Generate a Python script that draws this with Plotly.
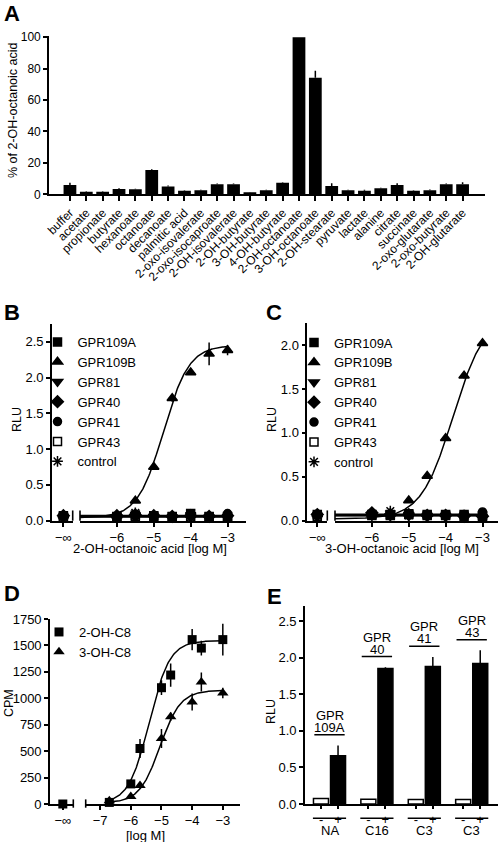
import numpy as np
import plotly.graph_objects as go

W, H = 498, 842
FONT = "Liberation Sans, Arial, sans-serif"

# ---------------- Panel A ----------------
a_categories = ["buffer", "acetate", "propionate", "butyrate", "hexanoate", "octanoate",
                "decanoate", "palmitic acid", "2-oxo-isovalerate", "2-oxo-isocaproate",
                "2-OH-isovalerate", "2-OH-butyrate", "3-OH-butyrate", "4-OH-butyrate",
                "2-OH-octanoate", "3-OH-octanoate", "2-OH-stearate", "pyruvate", "lactate",
                "alanine", "citrate", "succinate", "2-oxo-glutarate", "2-oxo-butyrate",
                "2-OH-glutarate"]
a_values = [5.9, 1.7, 1.7, 3.4, 3.2, 15.5, 4.9, 2.3, 2.5, 6.4, 6.4, 1.3, 2.5, 7.4,
            100, 74.3, 5.3, 2.5, 2.3, 3.8, 5.9, 2.3, 2.5, 6.4, 6.4]
a_errors = [1.4, 0.3, 0.3, 0.4, 0.3, 0.4, 0.7, 0.3, 0.4, 0.5, 0.5, 0.2, 0.4, 0.3,
            0.0, 4.3, 1.7, 0.4, 0.6, 0.3, 1.2, 0.3, 0.6, 0.5, 1.2]
a_yticks = [0, 20, 40, 60, 80, 100]

# ---------------- Panels B and C ----------------
bc_receptors = ["GPR109A", "GPR109B", "GPR81", "GPR40", "GPR41", "GPR43", "control"]
bc_conc = [-6, -5.5, -5, -4.5, -4, -3.5, -3]          # log M
bc_xticks = [-6, -5, -4, -3]

# values at -inf (buffer) and at bc_conc
b_inf = [0.07, 0.07, 0.06, 0.07, 0.06, 0.05, 0.06]
b_gpr109a = [0.06, 0.08, 0.07, 0.06, 0.10, 0.06, 0.06]
b_gpr109b = [0.07, 0.28, 0.75, 1.71, 2.07, 2.33, 2.38]
b_gpr109b_err = [0.0, 0.02, 0.03, 0.05, 0.03, 0.16, 0.07]
b_gpr81 = [0.05, 0.07, 0.06, 0.05, 0.08, 0.05, 0.05]
b_gpr40 = [0.07, 0.08, 0.07, 0.06, 0.07, 0.06, 0.07]
b_gpr41 = [0.06, 0.07, 0.07, 0.06, 0.08, 0.06, 0.10]
b_gpr43 = [0.05, 0.06, 0.06, 0.05, 0.05, 0.05, 0.05]
b_control = [0.06, 0.11, 0.07, 0.06, 0.05, 0.06, 0.06]
b_fit_gpr109b = [0.04, 2.45, -4.74, 1.25]   # bottom, top, logEC50, hill

c_inf = [0.07, 0.07, 0.06, 0.07, 0.06, 0.05, 0.06]
c_gpr109a = [0.07, 0.07, 0.07, 0.07, 0.07, 0.07, 0.06]
c_gpr109b = [0.07, 0.08, 0.23, 0.51, 0.94, 1.65, 2.02]
c_gpr109b_err = [0.0, 0.01, 0.02, 0.02, 0.03, 0.03, 0.02]
c_gpr81 = [0.06, 0.06, 0.07, 0.06, 0.06, 0.05, 0.04]
c_gpr40 = [0.09, 0.07, 0.07, 0.06, 0.06, 0.05, 0.05]
c_gpr41 = [0.07, 0.07, 0.07, 0.07, 0.07, 0.07, 0.10]
c_gpr43 = [0.06, 0.06, 0.08, 0.06, 0.06, 0.05, 0.05]
c_control = [0.06, 0.11, 0.06, 0.06, 0.06, 0.05, 0.05]
c_fit_gpr109b = [0.02, 2.35, -3.8, 1.0]

# ---------------- Panel D ----------------
d_series = ["2-OH-C8", "3-OH-C8"]
d_conc = [-6.7, -6, -5.7, -5, -4.7, -4, -3.7, -3]
d_xticks = [-7, -6, -5, -4, -3]
d_inf = [0, 0]
d_2oh = [15, 190, 525, 1100, 1220, 1555, 1475, 1555]
d_2oh_err = [10, 30, 90, 70, 110, 100, 70, 150]
d_3oh = [30, 70, 175, 620, 826, 965, 1155, 1050]
d_3oh_err = [10, 20, 30, 90, 40, 80, 90, 50]
d_fit_2oh = [5, 1545, -5.4, 1.3]
d_fit_3oh = [10, 1075, -5.05, 1.3]

# ---------------- Panel E ----------------
e_agonists = ["NA", "C16", "C3", "C3"]
e_receptors = ["109A", "40", "41", "43"]
e_minus = [0.075, 0.065, 0.06, 0.06]
e_plus = [0.66, 1.85, 1.88, 1.92]
e_plus_err = [0.14, 0.02, 0.13, 0.18]


def px(x):
    return x / W


def py(y):
    return 1 - y / H


def logistic(x, p):
    bottom, top, logec50, hill = p
    return bottom + (top - bottom) / (1 + 10 ** ((logec50 - x) * hill))


fig = go.Figure()
BLACK = "black"
ERR = dict(type="data", color=BLACK, thickness=1.5, width=0)

# ---- A
a_idx = list(range(len(a_categories)))
fig.add_trace(go.Bar(x=a_idx, y=a_values, width=0.78, marker=dict(color=BLACK, line=dict(width=0)),
                     error_y=dict(ERR, array=a_errors, symmetric=False, arrayminus=[0] * len(a_errors)),
                     xaxis="x", yaxis="y", showlegend=False))

# ---- B, C
symbols = ["square", "triangle-up", "triangle-down", "diamond", "circle", "square-open", "asterisk-open"]
sizes = [8, 9, 9, 9, 8, 8, 9]


def add_dose_panel(inf_vals, series, errs, fits, xl, xm, ya, legend, x_curve):
    n = len(bc_receptors)
    for i in reversed(range(n)):
        fig.add_trace(go.Scatter(x=[0], y=[inf_vals[i]], mode="markers", xaxis=xl, yaxis=ya,
                                 marker=dict(symbol=symbols[i], size=sizes[i], color=BLACK,
                                             line=dict(color=BLACK, width=1.5)),
                                 showlegend=False, cliponaxis=False))
    xs = np.linspace(x_curve[0], x_curve[1], 200)
    for i in range(n):
        if fits[i] is not None:
            ys = logistic(xs, fits[i])
            fig.add_trace(go.Scatter(x=xs, y=ys, mode="lines", line=dict(color=BLACK, width=1.5),
                                     xaxis=xm, yaxis=ya, showlegend=False, hoverinfo="skip"))
        else:
            m = float(np.mean(series[i]))
            fig.add_trace(go.Scatter(x=[x_curve[0], x_curve[1]], y=[m, m], mode="lines",
                                     line=dict(color=BLACK, width=1.5),
                                     xaxis=xm, yaxis=ya, showlegend=False, hoverinfo="skip"))
    for i in range(n):
        kw = {}
        if errs[i] is not None:
            kw["error_y"] = dict(ERR, array=errs[i])
        fig.add_trace(go.Scatter(x=bc_conc, y=series[i], mode="markers", name=bc_receptors[i],
                                 xaxis=xm, yaxis=ya, legend=legend, legendrank=i + 1,
                                 marker=dict(symbol=symbols[i], size=sizes[i], color=BLACK,
                                             line=dict(color=BLACK, width=1.5)),
                                 cliponaxis=False, **kw))


b_series = [b_gpr109a, b_gpr109b, b_gpr81, b_gpr40, b_gpr41, b_gpr43, b_control]
b_errs = [None, b_gpr109b_err, None, None, None, None, None]
b_fits = [None, b_fit_gpr109b, None, None, None, None, None]
add_dose_panel(b_inf, b_series, b_errs, b_fits, "x2", "x3", "y2", "legend", (-7, -3))

c_series = [c_gpr109a, c_gpr109b, c_gpr81, c_gpr40, c_gpr41, c_gpr43, c_control]
c_errs = [None, c_gpr109b_err, None, None, None, None, None]
c_fits = [None, c_fit_gpr109b, None, None, None, None, None]
add_dose_panel(c_inf, c_series, c_errs, c_fits, "x4", "x5", "y3", "legend2", (-7, -3))

# ---- D
d_vals = [d_2oh, d_3oh]
d_errs = [d_2oh_err, d_3oh_err]
d_fits = [d_fit_2oh, d_fit_3oh]
d_symbols = ["square", "triangle-up"]
d_sizes = [9, 10]
xs_d = np.linspace(min(d_conc) - 0.1, max(d_conc), 200)
for i in range(2):
    fig.add_trace(go.Scatter(x=xs_d, y=logistic(xs_d, d_fits[i]), mode="lines",
                             line=dict(color=BLACK, width=1.5), xaxis="x7", yaxis="y4",
                             showlegend=False, hoverinfo="skip"))
for i in range(2):
    fig.add_trace(go.Scatter(x=d_conc, y=d_vals[i], mode="markers", name=d_series[i],
                             error_y=dict(ERR, array=d_errs[i]),
                             marker=dict(symbol=d_symbols[i], size=d_sizes[i], color=BLACK),
                             xaxis="x7", yaxis="y4", legend="legend3", legendrank=i + 1,
                             cliponaxis=False))
fig.add_trace(go.Scatter(x=[0], y=[d_inf[0]], mode="markers",
                         marker=dict(symbol="square", size=9, color=BLACK),
                         xaxis="x6", yaxis="y4", showlegend=False, cliponaxis=False))

# ---- E
e_idx = list(range(len(e_agonists)))
fig.add_trace(go.Bar(x=e_idx, y=e_minus, name="-", marker=dict(color="white", line=dict(color=BLACK, width=1.5)),
                     xaxis="x8", yaxis="y5", showlegend=False, offsetgroup="m"))
fig.add_trace(go.Bar(x=e_idx, y=e_plus, name="+", marker=dict(color=BLACK, line=dict(color=BLACK, width=1.5)),
                     error_y=dict(ERR, array=e_plus_err, symmetric=False, arrayminus=[0] * 4),
                     xaxis="x8", yaxis="y5", showlegend=False, offsetgroup="p"))

# ---------------- Layout ----------------
tickfont = dict(family=FONT, size=13, color=BLACK)
axis_common = dict(showline=True, linecolor=BLACK, linewidth=1.6, ticks="outside", ticklen=4,
                   tickwidth=1.6, tickcolor=BLACK, showgrid=False, zeroline=False, tickfont=tickfont,
                   automargin=False)
legend_common = dict(xanchor="left", yanchor="top", bgcolor="rgba(0,0,0,0)",
                     font=dict(family=FONT, size=13, color=BLACK), itemwidth=30, tracegroupgap=0)

layout = dict(
    template="none",
    width=W, height=H, margin=dict(l=0, r=0, t=0, b=0, pad=0), autosize=False,
    paper_bgcolor="white", plot_bgcolor="rgba(0,0,0,0)",
    font=dict(family=FONT, size=13, color=BLACK),
    barmode="group", bargap=0.28, bargroupgap=0.12,
    # A
    xaxis=dict(axis_common, domain=[px(49), px(485)], range=[-1.28, 25.37], anchor="y",
               tickmode="array", tickvals=a_idx, ticktext=a_categories, tickangle=-45, ticklen=5,
               tickfont=dict(family=FONT, size=12, color=BLACK)),
    yaxis=dict(axis_common, domain=[py(194.3), py(35.7)], range=[0, 101], anchor="x",
               tickmode="array", tickvals=a_yticks, tickfont=dict(family=FONT, size=12, color=BLACK)),
    # B
    xaxis2=dict(axis_common, domain=[px(52), px(72.7)], range=[-0.55, 0.45], anchor="y2",
                tickmode="array", tickvals=[0], ticktext=["\u2212\u221e"]),
    xaxis3=dict(axis_common, domain=[px(80), px(246)], range=[-7, -2.5], anchor="y2",
                tickmode="array", tickvals=bc_xticks),
    yaxis2=dict(axis_common, domain=[py(520.7), py(323.8)], range=[0, 2.75], anchor="x2",
                tickmode="linear", tick0=0, dtick=0.5, tickformat=".1f"),
    # C
    xaxis4=dict(axis_common, domain=[px(307.3), px(327.3)], range=[-0.5, 0.5], anchor="y3",
                tickmode="array", tickvals=[0], ticktext=["\u2212\u221e"]),
    xaxis5=dict(axis_common, domain=[px(335), 1.0], range=[-7, -2.58], anchor="y3",
                tickmode="array", tickvals=bc_xticks),
    yaxis3=dict(axis_common, domain=[py(520.7), py(323.1)], range=[0, 2.25], anchor="x4",
                tickmode="linear", tick0=0, dtick=0.5, tickformat=".1f"),
    # D
    xaxis6=dict(axis_common, domain=[px(50), px(73.3)], range=[-0.55, 0.45], anchor="y4",
                tickmode="array", tickvals=[0], ticktext=["\u2212\u221e"]),
    xaxis7=dict(axis_common, domain=[px(85.7), px(240)], range=[-7.47, -2.44], anchor="y4",
                tickmode="array", tickvals=d_xticks),
    yaxis4=dict(axis_common, domain=[py(804), py(619)], range=[0, 1750], anchor="x6",
                tickmode="linear", tick0=0, dtick=250),
    # E
    xaxis8=dict(axis_common, domain=[px(305), 1.0], range=[-0.517, 3.555], anchor="y5",
                tickmode="array",
                tickvals=[g + o for g in e_idx for o in (-0.178, 0.178)],
                ticktext=["-", "+"] * len(e_idx), ticklen=3),
    yaxis5=dict(axis_common, domain=[py(804), py(606.4)], range=[0, 2.7], anchor="x8",
                tickmode="linear", tick0=0, dtick=0.5, tickformat=".1f"),
    legend=dict(legend_common, x=px(37.5), y=py(327)),
    legend2=dict(legend_common, x=px(294), y=py(327.5)),
    legend3=dict(legend_common, x=px(39), y=py(617)),
)
fig.update_layout(**layout)

ann = []
# panel letters
for letter, (lx, ly) in {"A": (12, 13), "B": (12, 312), "C": (274, 312), "D": (12, 593), "E": (274, 596)}.items():
    ann.append(dict(text="<b>%s</b>" % letter, x=px(lx), y=py(ly), xref="paper", yref="paper",
                    xanchor="center", yanchor="middle",
                    showarrow=False, font=dict(family=FONT, size=22, color=BLACK)))
# axis titles
for t, (tx, ty), ang in [("% of 2-OH-octanoic acid", (13, 110), -90), ("RLU", (17, 420), -90),
                         ("RLU", (272, 420), -90), ("CPM", (9, 703), -90), ("RLU", (271, 712), -90),
                         ("2-OH-octanoic acid [log M]", (150, 548), 0),
                         ("3-OH-octanoic acid [log M]", (402, 548), 0), ("[log M]", (145, 835), 0)]:
    ann.append(dict(text=t, x=px(tx), y=py(ty), xref="paper", yref="paper", showarrow=False,
                    xanchor="center", yanchor="middle",
                    textangle=ang, font=dict(family=FONT, size=13 if ang == 0 else 12.5, color=BLACK)))

shapes = []
# axis break marks
for xl, xm, ya, y0, y1 in [("x2", "x3", "y2", 0, 0.052), ("x4", "x5", "y3", 0, 0.052),
                           ("x6", "x7", "y4", -0.02, 0.025)]:
    for xr, xv in [(xl + " domain", 1), (xm + " domain", 0)]:
        shapes.append(dict(type="line", xref=xr, yref=ya + " domain", x0=xv, x1=xv, y0=y0, y1=y1,
                           line=dict(color=BLACK, width=1.6)))

# Panel E labels
for g in e_idx:
    top = e_plus[g] + e_plus_err[g]
    line_y = top + 0.145
    shapes.append(dict(type="line", xref="x8", yref="y5", x0=g - 0.32, x1=g + 0.32, y0=line_y, y1=line_y,
                       line=dict(color=BLACK, width=1.5)))
    ann.append(dict(text=e_receptors[g], x=g, y=line_y + 0.1, xref="x8", yref="y5", showarrow=False,
                    xanchor="center", yanchor="middle",
                    font=dict(family=FONT, size=13, color=BLACK)))
    ann.append(dict(text="GPR", x=g, y=line_y + 0.265, xref="x8", yref="y5", showarrow=False,
                    xanchor="center", yanchor="middle",
                    font=dict(family=FONT, size=13, color=BLACK)))
    shapes.append(dict(type="line", xref="x8", yref="paper", x0=g - 0.35, x1=g + 0.35, y0=py(818.3),
                       y1=py(818.3), line=dict(color=BLACK, width=1.5)))
    ann.append(dict(text=e_agonists[g], x=g, y=py(830), xref="x8", yref="paper", showarrow=False,
                    xanchor="center", yanchor="middle",
                    font=dict(family=FONT, size=13, color=BLACK)))

fig.update_layout(annotations=ann, shapes=shapes)
# remove the browser's default 8 px body margin so the figure fills the window exactly
fig.write_html("out.html", config={"displayModeBar": False},
               post_script="document.body.style.margin='0';")
